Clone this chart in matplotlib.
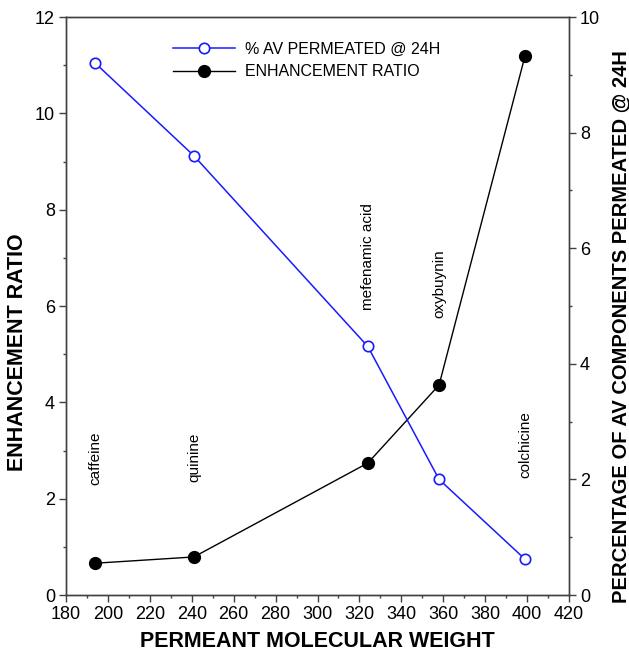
import numpy as np
import matplotlib.pyplot as plt
from matplotlib.ticker import MultipleLocator

plt.rcParams['font.family'] = ['Liberation Sans', 'DejaVu Sans']

mw = [194, 241, 324, 358, 399]
compounds = ["caffeine", "quinine", "mefenamic acid", "oxybuynin", "colchicine"]
enhancement = [0.66, 0.79, 2.74, 4.36, 11.19]
pct_permeated = [9.2, 7.6, 4.3, 2.0, 0.62]
label_y = [2.28, 2.35, 5.92, 5.75, 2.43]

fig = plt.figure(figsize=(6.29, 6.55), dpi=100)
ax = fig.add_axes([0.105, 0.0916, 0.7996, 0.8824])
ax2 = ax.twinx()

l2, = ax2.plot(mw, pct_permeated, color='#1a1aff', lw=1.1, marker='o', ms=7.5,
               mfc='white', mec='#1a1aff', mew=1.2, label='% AV PERMEATED @ 24H')
l1, = ax.plot(mw, enhancement, color='black', lw=1.0, marker='o', ms=8.5,
              mfc='black', mec='black', label='ENHANCEMENT RATIO')

for x, y, name in zip(mw, label_y, compounds):
    ax.text(x, y, name, rotation=90, ha='center', va='bottom', fontsize=11)

ax.set_xlim(180, 420)
ax.set_ylim(0, 12)
ax2.set_ylim(0, 10)
ax.xaxis.set_major_locator(MultipleLocator(20))
ax.xaxis.set_minor_locator(MultipleLocator(10))
ax.yaxis.set_major_locator(MultipleLocator(2))
ax.yaxis.set_minor_locator(MultipleLocator(1))
ax2.yaxis.set_major_locator(MultipleLocator(2))
ax2.yaxis.set_minor_locator(MultipleLocator(1))

for a in (ax, ax2):
    a.tick_params(which='major', length=5, width=1, labelsize=13,
                  color='#404040', pad=3)
    a.tick_params(which='minor', length=2.5, width=1, color='#404040')
    for s in a.spines.values():
        s.set_linewidth(1.0)
        s.set_color('#404040')

ax.set_xlabel('PERMEANT MOLECULAR WEIGHT', fontsize=15.5, fontweight='bold',
              labelpad=6)
ax.set_ylabel('ENHANCEMENT RATIO', fontsize=15.5, fontweight='bold')
ax2.set_ylabel('PERCENTAGE OF AV COMPONENTS PERMEATED @ 24H', fontsize=14.5,
               fontweight='bold')
ax.yaxis.set_label_coords(-0.0755, 0.42)
ax2.yaxis.set_label_coords(1.0835, 0.464)

ax.legend(handles=[l2, l1], loc='upper left', bbox_to_anchor=(0.2, 0.968),
          frameon=False, fontsize=11.5, handlelength=3.9, handletextpad=0.6,
          borderaxespad=0, labelspacing=0.45)

fig.savefig('out.png', dpi=100)
